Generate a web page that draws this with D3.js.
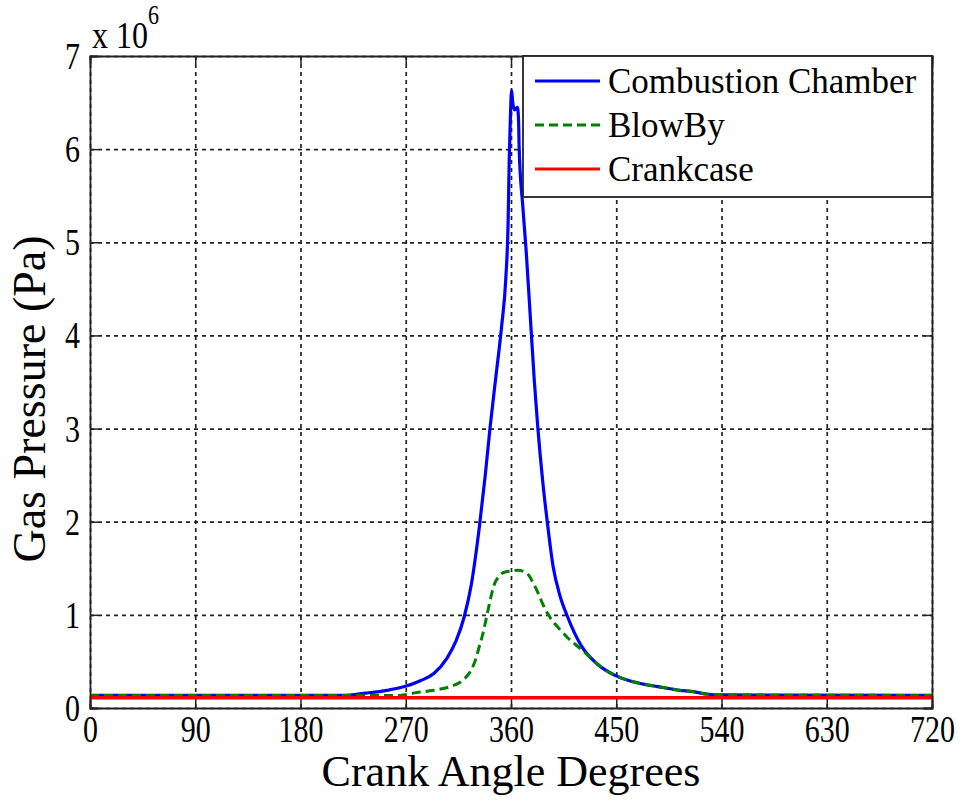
<!DOCTYPE html>
<html>
<head>
<meta charset="utf-8">
<script src="https://cdn.jsdelivr.net/npm/d3@7/dist/d3.min.js"></script>
<style>
  body { margin: 0; background: #fff; }
  svg { font-family: "Liberation Serif", "Times New Roman", serif; }
</style>
</head>
<body>
<div id="chart"></div>
<script>
// crank angle (deg) / pressure (x 10^6 Pa)
var chamberAngle = [0, 216, 236, 254, 269, 282, 294, 305, 313, 320, 326, 333, 338, 342, 347, 352, 355.5, 357.5, 358.5, 359.5, 360.5, 361.5, 363, 365.5, 366.5, 367, 370, 373, 377, 380, 383, 387, 391, 396, 402, 408, 420, 433, 449, 462, 476, 490, 504, 516, 527, 539, 720];
var chamberPress = [0.135, 0.135, 0.16, 0.19, 0.23, 0.29, 0.37, 0.53, 0.72, 0.98, 1.32, 1.95, 2.5, 3.0, 3.55, 4.1, 4.6, 5.2, 5.9, 6.35, 6.63, 6.5, 6.42, 6.45, 6.3, 6.0, 5.4, 4.9, 4.1, 3.5, 3.0, 2.45, 2.0, 1.52, 1.2, 0.99, 0.67, 0.48, 0.35, 0.29, 0.25, 0.22, 0.19, 0.175, 0.15, 0.14, 0.135];

var blowbyAngle = [0, 265, 279, 294, 308, 319, 326, 330.5, 332, 336, 339.5, 343, 345, 350, 355, 360, 366, 370, 376, 379, 383, 387, 392, 402, 408, 419, 428, 436, 449, 462, 476, 490, 504, 516, 527, 539, 720];
var blowbyPress = [0.135, 0.135, 0.165, 0.19, 0.23, 0.3, 0.41, 0.55, 0.62, 0.8, 1.0, 1.2, 1.3, 1.42, 1.46, 1.47, 1.48, 1.47, 1.41, 1.34, 1.24, 1.12, 1.0, 0.84, 0.76, 0.64, 0.54, 0.45, 0.35, 0.29, 0.25, 0.22, 0.19, 0.175, 0.15, 0.14, 0.135];

var crankAngle = [0, 720];
var crankPress = [0.11, 0.11];

var xTicks = [0, 90, 180, 270, 360, 450, 540, 630, 720];
var yTicks = [0, 1, 2, 3, 4, 5, 6, 7];

var seriesNames = ["Combustion Chamber", "BlowBy", "Crankcase"];
var seriesColors = ["#0000ff", "#008000", "#ff0000"];

// set the dimensions and margins of the graph
var margin = {top: 56, right: 32, bottom: 97, left: 90},
    width = 964 - margin.left - margin.right,
    height = 805 - margin.top - margin.bottom;

var svg = d3.select("#chart")
    .append("svg")
    .attr("width", 964)
    .attr("height", 805);

var g = svg.append("g")
    .attr("transform", "translate(" + margin.left + "," + margin.top + ")");

var x = d3.scaleLinear().domain([0, 720]).range([0, width]);
var y = d3.scaleLinear().domain([0, 7]).range([height, 0]);

// dotted grid
g.append("g")
    .attr("class", "grid")
    .attr("transform", "translate(0," + height + ")")
    .call(d3.axisBottom(x).tickValues(xTicks).tickSize(-height).tickFormat(""));
g.append("g")
    .attr("class", "grid")
    .call(d3.axisLeft(y).tickValues(yTicks).tickSize(-width).tickFormat(""));
g.selectAll(".grid .domain").remove();
g.selectAll(".grid line")
    .attr("stroke", "#222")
    .attr("stroke-width", 1.7)
    .attr("stroke-dasharray", "4,4");

// the lines
function lineOf(xs, ys) {
    return d3.line()
        .curve(d3.curveMonotoneX)
        .x(function(d, i) { return x(xs[i]); })
        .y(function(d, i) { return y(ys[i]); })(xs);
}

g.append("path")
    .attr("d", lineOf(chamberAngle, chamberPress))
    .attr("fill", "none")
    .attr("stroke", seriesColors[0])
    .attr("stroke-width", 3.2);

g.append("path")
    .attr("d", lineOf(blowbyAngle, blowbyPress))
    .attr("fill", "none")
    .attr("stroke", seriesColors[1])
    .attr("stroke-width", 3)
    .attr("stroke-dasharray", "9,5");

g.append("path")
    .attr("d", lineOf(crankAngle, crankPress))
    .attr("fill", "none")
    .attr("stroke", seriesColors[2])
    .attr("stroke-width", 3.5);

// axes, ticks pointing inward
var xAxis = g.append("g")
    .attr("transform", "translate(0," + height + ")")
    .call(d3.axisBottom(x).tickValues(xTicks).tickSize(-8).tickFormat(d3.format("d")));
var yAxis = g.append("g")
    .call(d3.axisLeft(y).tickValues(yTicks).tickSize(-8).tickFormat(d3.format("d")));
g.append("g")
    .call(d3.axisTop(x).tickValues(xTicks).tickSize(-8).tickFormat(""));
g.append("g")
    .attr("transform", "translate(" + width + ",0)")
    .call(d3.axisRight(y).tickValues(yTicks).tickSize(-8).tickFormat(""));

g.selectAll(".domain").attr("stroke", "#222").attr("stroke-width", 1.8);
g.selectAll(".tick line").filter(function() { return !this.closest(".grid"); })
    .attr("stroke", "#222").attr("stroke-width", 1.5);

// tick labels: tall serif digits as in the picture
xAxis.selectAll("text")
    .attr("y", null).attr("dy", null)
    .attr("font-size", 30).attr("fill", "#000")
    .style("font-family", "Liberation Serif")
    .attr("transform", "translate(0,34) scale(1,1.28)");
yAxis.selectAll("text")
    .attr("x", null).attr("dy", null)
    .attr("font-size", 30).attr("fill", "#000")
    .style("font-family", "Liberation Serif")
    .attr("transform", "translate(-10,12.5) scale(1,1.28)");

// exponent label
var expo = g.append("text")
    .attr("transform", "translate(2,-8) scale(1,1.2)")
    .attr("font-size", 32)
    .text("x 10");
expo.append("tspan")
    .attr("dy", -20)
    .attr("font-size", 22)
    .text("6");

// axis titles
svg.append("text")
    .attr("x", margin.left + width / 2)
    .attr("y", 786)
    .attr("text-anchor", "middle")
    .attr("font-size", 44)
    .text("Crank Angle Degrees");

svg.append("text")
    .attr("transform", "translate(45,399) rotate(-90)")
    .attr("text-anchor", "middle")
    .attr("font-size", 46)
    .text("Gas Pressure (Pa)");

// legend
var legend = g.append("g")
    .attr("transform", "translate(" + (width - 409) + ",0)");
legend.append("rect")
    .attr("width", 409)
    .attr("height", 141)
    .attr("fill", "#fff")
    .attr("stroke", "#222")
    .attr("stroke-width", 1.8);

seriesNames.forEach(function(name, i) {
    var rowY = 25 + i * 44;
    legend.append("line")
        .attr("x1", 12).attr("x2", 77)
        .attr("y1", rowY).attr("y2", rowY)
        .attr("stroke", seriesColors[i])
        .attr("stroke-width", 3)
        .attr("stroke-dasharray", i == 1 ? "9,5" : null);
    legend.append("text")
        .attr("x", 85)
        .attr("y", rowY + 12)
        .attr("font-size", 35)
        .text(name);
});
</script>
</body>
</html>
